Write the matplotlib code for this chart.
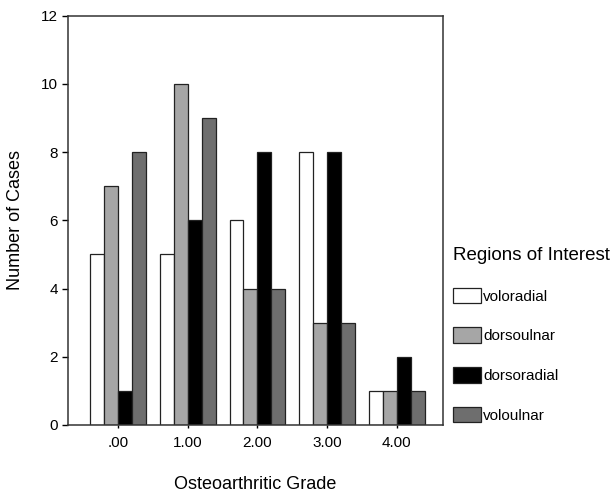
import matplotlib.pyplot as plt
import numpy as np

plt.rcParams['font.family'] = ['Liberation Sans', 'DejaVu Sans']

grades = [".00", "1.00", "2.00", "3.00", "4.00"]
regions = ["voloradial", "dorsoulnar", "dorsoradial", "voloulnar"]
voloradial = [5, 5, 6, 8, 1]
dorsoulnar = [7, 10, 4, 3, 1]
dorsoradial = [1, 6, 8, 8, 2]
voloulnar = [8, 9, 4, 3, 1]
colors = ["#ffffff", "#a6a6a6", "#000000", "#6e6e6e"]

series = [voloradial, dorsoulnar, dorsoradial, voloulnar]

fig = plt.figure(figsize=(6.16, 4.93), dpi=100)
ax = fig.add_axes([0.110, 0.138, 0.609, 0.830])

x = np.arange(len(grades))
w = 0.2
for i, vals in enumerate(series):
    ax.bar(x + (i - 1.5) * w, vals, w, color=colors[i], edgecolor="#222222",
           linewidth=0.9, label=regions[i])

ax.set_xlim(-0.72, 4.66)
ax.set_ylim(0, 12)
ax.set_yticks([0, 2, 4, 6, 8, 10, 12])
ax.set_xticks(x)
ax.set_xticklabels(grades)
ax.tick_params(axis="y", length=4, width=1, labelsize=11, pad=3)
ax.tick_params(axis="x", length=2, width=1, labelsize=11, pad=6)
for s in ax.spines.values():
    s.set_linewidth(1.1)
    s.set_color("#333333")

ax.set_ylabel("Number of Cases", fontsize=13, labelpad=12)
ax.set_xlabel("Osteoarthritic Grade", fontsize=13, labelpad=19)

leg = ax.legend(loc="upper left", bbox_to_anchor=(1.01, 0.45), frameon=False,
                title="Regions of Interest", title_fontsize=13.5, fontsize=11,
                handlelength=1.85, handleheight=1.2, labelspacing=1.55,
                handletextpad=0.15, borderaxespad=0)
leg._legend_box.align = "left"

fig.savefig("out.png", dpi=100)
